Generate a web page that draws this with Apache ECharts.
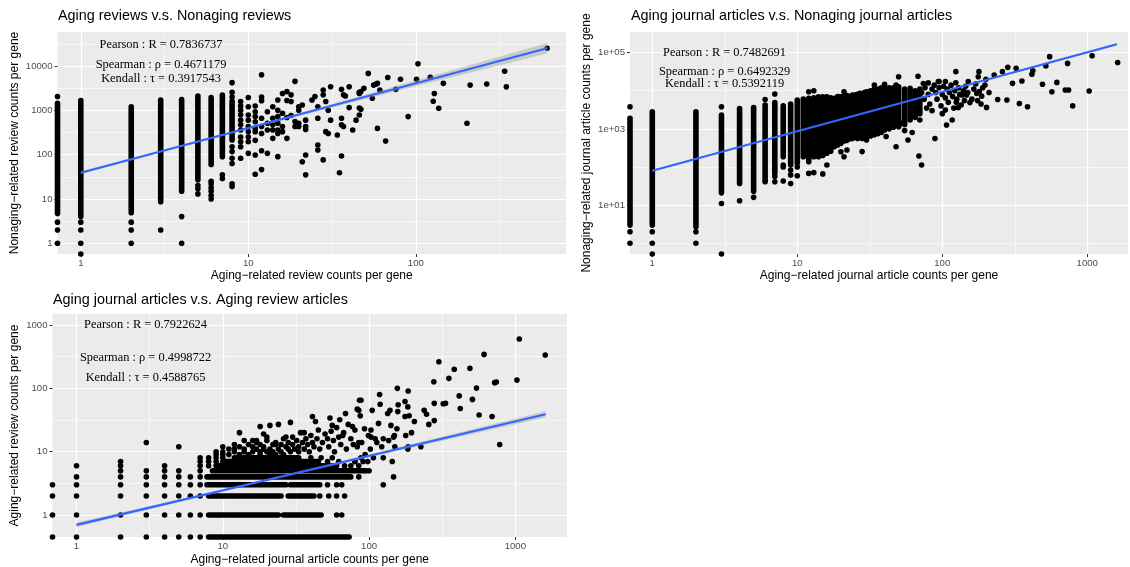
<!DOCTYPE html>
<html><head><meta charset="utf-8">
<script src="https://cdn.jsdelivr.net/npm/echarts@6/dist/echarts.min.js"></script>
<style>html,body{margin:0;padding:0;background:#fff}#c{width:1130px;height:567px}</style>
</head><body><div id="c"></div>
<script>
// ---------------- texts ----------------
const p1Title = 'Aging reviews v.s. Nonaging reviews';
const p1XName = 'Aging\u2212related review counts per gene';
const p1YName = 'Nonaging\u2212related review counts per gene';
const p2Title = 'Aging journal articles v.s. Nonaging journal articles';
const p2XName = 'Aging\u2212related journal article counts per gene';
const p2YName = 'Nonaging\u2212related journal article counts per gene';
const p3Title = 'Aging journal articles v.s. Aging review articles';
const p3XName = 'Aging\u2212related journal article counts per gene';
const p3YName = 'Aging\u2212related review counts per gene';
const p1Stats = ['Pearson : R = 0.7836737', 'Spearman : \u03c1 = 0.4671179', 'Kendall : \u03c4 = 0.3917543'];
const p2Stats = ['Pearson : R = 0.7482691', 'Spearman : \u03c1 = 0.6492329', 'Kendall : \u03c4 = 0.5392119'];
const p3Stats = ['Pearson : R = 0.7922624', 'Spearman : \u03c1 = 0.4998722', 'Kendall : \u03c4 = 0.4588765'];

// ---------------- ticks ----------------
const p1XTicks = [1, 10, 100];
const p1XTickLabels = ['1', '10', '100'];
const p1YTicks = [1, 10, 100, 1000, 10000];
const p1YTickLabels = ['1', '10', '100', '1000', '10000'];
const p1XMinor = [3.1623, 31.623, 316.23];
const p1YMinor = [3.1623, 31.623, 316.23, 3162.3, 31623];
const p2XTicks = [1, 10, 100, 1000];
const p2XTickLabels = ['1', '10', '100', '1000'];
const p2YTicks = [10, 1000, 100000];
const p2YTickLabels = ['1e+01', '1e+03', '1e+05'];
const p2XMinor = [3.1623, 31.623, 316.23];
const p2YMinor = [1, 100, 10000];
const p3XTicks = [1, 10, 100, 1000];
const p3XTickLabels = ['1', '10', '100', '1000'];
const p3YTicks = [1, 10, 100, 1000];
const p3YTickLabels = ['1', '10', '100', '1000'];
const p3XMinor = [3.1623, 31.623, 316.23];
const p3YMinor = [3.1623, 31.623, 316.23];

// ---------------- panel 1 data: [aging, nonaging] ----------------
// dense overlapping columns of points: [x, lowest y, highest y]
const p1Cols = [[0,4.7,1440],[1,4,1650],[2,4.9,1200],[3,8.7,1700],[4,15,1750],[5,27,2100],[6,60,1950],[7,90,2200],[8,215,1600]];
const p1Pts = [
[0,1],[0,2],[0,3],[0,2040],[1,0],[1,1],[1,2],[1,3],[2,1],[2,2],[2,3],[3,2],[4,1],[4,4],
[5,13],[5,17],[5,20],[6,10],[6,12],[6,15],[6,18],[6,22],[6,25],[7,29],[7,35],
[8,4200],[8,2560],[8,2000],[8,150],[8,117],[8,83],[8,63],[8,22],[8,19],
[9,1580],[9,1250],[9,1000],[9,790],[9,600],[9,470],[9,360],[9,250],[9,195],[9,150],[9,83],
[10,1940],[10,1200],[10,780],[10,600],[10,430],[10,330],[10,250],[10,195],[10,107],
[11,1250],[11,930],[11,720],[11,550],[11,390],[11,330],[11,210],[11,98],[11,36],
[12,6300],[12,2000],[12,1650],[12,660],[12,430],[12,300],[12,122],[12,46],
[13,930],[13,510],[13,360],[13,107],[14,1200],[14,660],[14,470],[14,360],[14,233],
[15,1700],[15,1000],[15,720],[15,510],[15,360],[15,300],[15,90],
[16,2400],[16,860],[16,430],[16,330],[17,2640],[17,1660],[17,690],[17,233],[18,2230],[18,1580],[18,760],
[19,4500],[19,560],[19,430],[20,1000],[20,1200],[20,430],[20,510],[21,1320],[21,69],[22,430],[22,370],[22,600],[22,98],[22,35],
[24,1700],[25,2040],[26,1200],[26,660],[26,165],[26,127],[28,2870],[28,2230],[28,76],[29,1580],[29,330],[30,1000],[30,300],
[31,3400],[31,600],[34,277],[35,39],[36,93],[36,470],[36,660],[36,2970],[37,430],[37,2230],[38,2100],[40,3400],[40,1150],
[42,360],[44,600],[46,1120],[46,2530],[46,780],[47,1050],[46,2400],[47,2640],[49,3150],[52,6800],[55,1870],[56,3700],
[58,3900],[59,4050],[61,2870],[59,390],[66,203],[68,5500],[76,2970],[81,5000],[90,720],[101,5000],[103,11200],
[122,5550],[129,2400],[127,1600],[137,1110],[146,4050],[202,510],[211,3700],[265,3900],[339,7600],[347,3380],[608,25000]
];
const p1Fit = [[1,39],[608,25000]];
const p1Band = [[1,35.9,42.2],[3,112,123],[10,375,421],[30,1096,1318],[100,3490,4710],[300,9860,15280],[608,19000,33000]];

// ---------------- panel 2 data ----------------
const p2Cols = [[0,3,1900],[1,3,2800],[2,2.7,2800],[3,21,2300],[4,37,3400],[5,27,3600],[6,45,4200],[7,68,4900],[8,186,4000],
[9,125,4500],[10,125,5700],[11,186,6000],[12,138,6300],[13,186,6500],[14,186,6900],[15,200,6900],[16,229,6900],[17,260,6500],
[18,340,6300],[19,380,7000],[20,417,6900],[21,480,7200],[22,500,7500],[23,550,7000],[24,560,7700],[25,620,7700],[26,560,8000],
[27,600,8500],[28,560,8000],[29,600,9000],[30,510,9400],[32,650,10000],[34,700,11000],[36,750,11000],[38,800,12000],
[40,930,12700],[43,1000,12000],[46,1100,12000],[50,1140,12600],[55,1300,11000],[60,1700,11500],[65,2000,10000],[70,2500,11000]];
const p2Pts = [
[0,1],[0,2],[0,3800],[1,0],[1,1],[1,2],[2,1],[2,2],[3,3800],[3,11],[3,0],[4,13],[5,23],[5,16],[6,5900],[6,41],
[7,8200],[7,56],[7,41],[8,100],[8,113],[8,43],[9,113],[9,83],[9,62],[9,37],[10,59],[10,100],[12,9400],[12,68],[13,71],[13,10000],
[15,66],[16,113],[21,9400],[21,186],[20,250],[22,280],[28,253],[34,14100],[40,14700],[48,14100],[50,23300],[68,24000],[74,15500],
[80,16000],[94,17300],[52,1390],[58,510],[48,340],[41,630],[55,900],[62,800],[70,1700],[89,560],[69,194],[72,113],
[95,17300],[105,17300],[105,3100],[107,1260],[117,1700],[124,31600],[124,16200],[129,3650],[125,5000],[137,7700],[147,7700],
[151,17300],[155,4870],[173,8500],[177,23300],[179,31600],[185,4470],[187,7200],[197,14100],[202,3650],[228,25700],[241,5900],
[260,31600],[283,41000],[279,5700],[305,15600],[323,38500],[340,4600],[354,18000],[387,3800],[415,27000],[421,33400],[491,14700],
[518,44500],[550,78000],[570,9400],[617,16500],[705,10400],[743,10400],[731,52000],[793,4000],[1030,9800],[1080,82600],[1620,55000],
[90,9000],[92,6000],[95,12000],[98,4000],[100,8000],[102,13000],[100,2500],[105,6500],[108,11000],[110,5000],[112,9000],
[115,14000],[118,7000],[120,3500],[122,10000],[126,6000],[130,12000],[132,8000],[135,4200],[140,10000],[142,5500],[145,13000],
[150,9000],[160,6000],[165,11000],[170,15000],[175,5500],[180,9500],[190,12000],[200,20000],[210,9000],[80,8000],[85,11000],
[75,6000],[78,3500],[82,4500],[88,14000],[76,12000],[72,9000],[85,3000]
];
const p2Fit = [[1,80],[1600,165000]];
const p2Band = [[1,76.4,83.8],[10,848,888],[100,9040,9680],[1600,152000,179000]];

// ---------------- panel 3 data: [aging journal, aging review] ----------------
// dense overlapping rows of points: [y, lowest x, highest x]
const p3Rows = [[0,8,73],[1,8,24],[1,26,47],[2,8,25],[2,28,42],[3,7.8,27],[3,29,46],[4,7.8,75],[5,8.5,95],[6,9,60],[7,10,45],[8,12,33]];
const p3Pts = [
[0,0],[1,0],[2,0],[3,0],[4,0],[5,0],[6,0],[7,0],
[0,1],[1,1],[2,1],[3,1],[4,1],[5,1],[6,1],[7,1],[60,1],[65,1],
[0,2],[1,2],[2,2],[3,2],[4,2],[5,2],[6,2],[7,2],[46,2],[53,2],[60,2],[68,2],
[0,3],[1,3],[2,3],[3,3],[4,3],[5,3],[6,3],[7,3],[52,3],[60,3],[65,3],[125,3],
[1,4],[2,4],[3,4],[4,4],[5,4],[6,4],[7,4],[85,4],[147,4],
[2,5],[3,5],[4,5],[5,5],[7,5],[100,5],
[1,6],[2,6],[4,6],[7,6],[8,6],[68,6],[75,6],[85,6],[144,7],
[2,7],[7,7],[8,7],[9,7],[52,7],[62,7],[80,7],[91,7],
[7,8],[8,8],[9,8],[10,8],[40,8],[47,8],[56,8],[88,8],[107,8],[125,8],
[3,14],[5,12],
[9,9],[9,10],[10,9],[10,10],[10,12],[11,9],[11,11],[12,10],[12,11],[12,13],[13,9],[13,12],[13,20],[14,10],[14,11],[14,15],
[15,9],[15,13],[16,10],[16,12],[16,15],[17,11],[17,14],[17,15],[18,9],[18,10],[18,13],[18,25],[19,11],[19,12],[19,19],
[20,10],[20,15],[20,17],[21,9],[21,11],[21,26],[22,13],[22,10],[23,9],[23,13],[23,14],[24,11],[24,27],[25,10],[25,13],
[26,16],[26,9],[27,12],[27,17],[28,11],[28,14],[29,10],[29,29],[30,13],[30,17],[31,11],[32,15],[33,10],[33,12],[34,20],
[35,14],[36,11],[36,20],[37,16],[38,13],[39,10],[40,18],[41,14],[41,36],[42,12],[43,30],[44,16],[45,22],[46,11],[48,14],
[50,19],[52,16],[53,12],[54,34],[55,21],[56,26],[57,15],[58,10],[60,24],[62,17],[63,32],[64,13],[66,18],[67,20],[69,40],
[70,11],[72,27],[75,16],[77,25],[78,13],[80,22],[83,12],[85,45],[86,65],
[85,14],[89,14],[99,18],[103,22],[110,16],[113,14],[122,12],[94,9],[102,11],[80,7],[98,7],[136,15],[147,17],
[1064,601],[1600,336],[611,344],[300,263],[382,200],[489,207],[351,144],[277,127],[722,123],[741,126],[1025,135],
[542,101],[413,76],[509,67],[420,48],[321,57],[333,58],[279,58],[565,38],[693,36],[781,13],[279,31],[256,27],[238,45],
[247,39],[226,12],[204,30],[195,20],[185,91],[184,51],[176,62],[156,100],[158,55],[157,43],[176,36],[188,37],[178,18],
[185,12],[184,11],[149,18],[155,23],[141,26],[139,45],[134,40],[118,80],[119,56],[116,28],[105,45],[88,65],[83,47],
[87,37],[93,23],[103,17],[125,16],[150,12]
];
const p3Fit = [[1,0.7],[1610,39]];
const p3Band = [[1,0.646,0.759],[10,2.37,2.54],[100,8.2,9.0],[1610,34.8,43.7]];

// ---------------- layout / style ----------------
const SANS = '"Liberation Sans", Arial, Helvetica, sans-serif';
const SERIF = '"Liberation Serif", "Times New Roman", serif';
const DOT = 5.6;
const panels = [
  {grid:{left:57.5, top:32, width:508.5, height:222}, x:[0.726,788], y:[0.574,58300],
   xt:p1XTicks, xl:p1XTickLabels, yt:p1YTicks, yl:p1YTickLabels, xm:p1XMinor, ym:p1YMinor,
   xn:p1XName, yn:p1YName, xGap:15.5, yGap:37, title:p1Title, tl:[58,9], stats:p1Stats, sx:161, sy:[45,64.5,79],
   cols:p1Cols, rows:[], pts:p1Pts, fit:p1Fit, band:p1Band},
  {grid:{left:630, top:32, width:498, height:222}, x:[0.702,1909], y:[0.524,345800],
   xt:p2XTicks, xl:p2XTickLabels, yt:p2YTicks, yl:p2YTickLabels, xm:p2XMinor, ym:p2YMinor,
   xn:p2XName, yn:p2YName, xGap:15.5, yGap:37.5, title:p2Title, tl:[631,9], stats:p2Stats, sx:724.5, sy:[52.7,71.7,83.5],
   cols:p2Cols, rows:[], pts:p2Pts, fit:p2Fit, band:p2Band},
  {grid:{left:52.5, top:314, width:514.5, height:223}, x:[0.685,2254], y:[0.45,1493],
   xt:p3XTicks, xl:p3XTickLabels, yt:p3YTicks, yl:p3YTickLabels, xm:p3XMinor, ym:p3YMinor,
   xn:p3XName, yn:p3YName, xGap:16.5, yGap:32, title:p3Title, tl:[53,293.5], stats:p3Stats, sx:145.5, sy:[325,357.3,377.7],
   cols:[], rows:p3Rows, pts:p3Pts, fit:p3Fit, band:p3Band}
];

function nz(v, min) { return v === 0 ? min : v; }
function fmt(ticks, labels) {
  return function (v) {
    for (let i = 0; i < ticks.length; i++) {
      if (Math.abs(Math.log10(ticks[i]) - Math.log10(v)) < 1e-6) return labels[i];
    }
    return '';
  };
}
function mainAxis(gi, range, ticks, labels, name, gap, isX) {
  return {
    type: 'log', logBase: 10, gridIndex: gi, min: range[0], max: range[1],
    name: name, nameLocation: 'middle', nameGap: gap,
    nameTextStyle: {fontFamily: SANS, fontSize: 12, color: '#000'},
    axisLine: {show: false},
    axisTick: {show: true, length: 3, customValues: ticks, lineStyle: {color: '#333333', width: 1}},
    axisLabel: {show: true, customValues: ticks, formatter: fmt(ticks, labels), margin: isX ? 4 : 5,
      color: '#4D4D4D', fontFamily: SANS, fontSize: 9.6},
    splitLine: {show: true, customValues: ticks, lineStyle: {color: '#FFFFFF', width: 1.2}},
    minorTick: {show: false}, minorSplitLine: {show: false}
  };
}
function minorAxis(gi, range, vals) {
  return {
    type: 'log', logBase: 10, gridIndex: gi, min: range[0], max: range[1],
    axisLine: {show: false},
    axisTick: {show: false, customValues: vals},
    axisLabel: {show: false, customValues: vals},
    splitLine: {show: true, customValues: vals, lineStyle: {color: '#FFFFFF', width: 0.6}}
  };
}
function colRender(params, api) {
  const a = api.coord([api.value(0), api.value(1)]);
  const b = api.coord([api.value(0), api.value(2)]);
  return {type: 'line', shape: {x1: a[0], y1: a[1], x2: b[0], y2: b[1]},
    style: {stroke: '#000', lineWidth: DOT, lineCap: 'round', opacity: 1}};
}
function rowRender(params, api) {
  const a = api.coord([api.value(1), api.value(0)]);
  const b = api.coord([api.value(2), api.value(0)]);
  return {type: 'line', shape: {x1: a[0], y1: a[1], x2: b[0], y2: b[1]},
    style: {stroke: '#000', lineWidth: DOT, lineCap: 'round', opacity: 1}};
}
function bandRender(band) {
  return function (params, api) {
    if (params.dataIndex !== 0) return null;
    const up = band.map(r => api.coord([r[0], r[2]]));
    const lo = band.map(r => api.coord([r[0], r[1]])).reverse();
    return {type: 'polygon', shape: {points: up.concat(lo)}, style: {fill: 'rgba(153,153,153,0.4)'}};
  };
}

const grids = [], xAxes = [], yAxes = [], series = [], titles = [], graphics = [];
panels.forEach((p, i) => {
  grids.push(Object.assign({show: true, backgroundColor: '#EBEBEB', borderWidth: 0, containLabel: false, outerBoundsMode: 'none'}, p.grid));
  xAxes[i] = mainAxis(i, p.x, p.xt, p.xl, p.xn, p.xGap, true);
  yAxes[i] = mainAxis(i, p.y, p.yt, p.yl, p.yn, p.yGap, false);
  xAxes[i + 3] = minorAxis(i, p.x, p.xm);
  yAxes[i + 3] = minorAxis(i, p.y, p.ym);
  if (p.cols.length) series.push({type: 'custom', xAxisIndex: i, yAxisIndex: i, clip: false, z: 2,
    encode: {x: 0, y: [1, 2]}, renderItem: colRender,
    data: p.cols.map(c => [nz(c[0], p.x[0]), c[1], c[2]])});
  if (p.rows.length) series.push({type: 'custom', xAxisIndex: i, yAxisIndex: i, clip: false, z: 2,
    encode: {y: 0, x: [1, 2]}, renderItem: rowRender,
    data: p.rows.map(r => [nz(r[0], p.y[0]), r[1], r[2]])});
  series.push({type: 'scatter', xAxisIndex: i, yAxisIndex: i, clip: false, z: 2, symbol: 'circle', symbolSize: DOT,
    itemStyle: {color: '#000000', opacity: 1}, emphasis: {disabled: true},
    data: p.pts.map(d => [nz(d[0], p.x[0]), nz(d[1], p.y[0])])});
  series.push({type: 'custom', xAxisIndex: i, yAxisIndex: i, clip: false, z: 3,
    encode: {x: 0, y: [1, 2]}, renderItem: bandRender(p.band), data: p.band});
  series.push({type: 'line', xAxisIndex: i, yAxisIndex: i, z: 4, symbol: 'none', smooth: false,
    lineStyle: {color: '#3366FF', width: 2.2, opacity: 1}, data: p.fit});
  titles.push({text: p.title, left: p.tl[0], top: p.tl[1], padding: 0,
    textStyle: {fontFamily: SANS, fontSize: 14.4, fontWeight: 'normal', color: '#000'}});
  p.stats.forEach((s, k) => graphics.push({type: 'text', x: p.sx, y: p.sy[k], z: 10,
    style: {text: s, textAlign: 'center', textVerticalAlign: 'middle', font: '12.4px ' + SERIF, fill: '#000'}}));
});

const chart = echarts.init(document.getElementById('c'), null, {renderer: 'canvas'});
chart.setOption({
  animation: false, backgroundColor: '#FFFFFF',
  title: titles, grid: grids, xAxis: xAxes, yAxis: yAxes, series: series, graphic: graphics
});
</script></body></html>
